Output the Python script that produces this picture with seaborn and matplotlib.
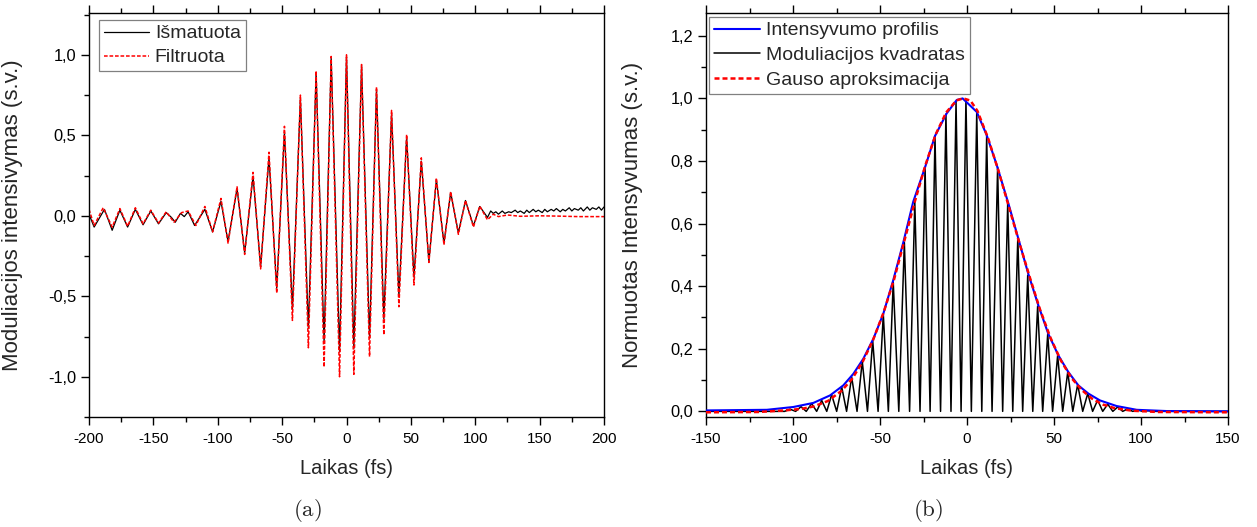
import numpy as np
import pandas as pd
import matplotlib
matplotlib.use("Agg")
import matplotlib.pyplot as plt
from matplotlib.ticker import MultipleLocator, FuncFormatter
import seaborn as sns

# ---------------- data: panel (a) ----------------
meas_t = [-200, -196, -188, -182, -176, -170, -164, -158, -152, -146, -140, -136, -133, -129,
          -126, -123, -118, -110, -104, -97.5, -92, -85, -79.1, -72.6, -66.7, -60.2, -54.2,
          -48.2, -42, -35.8, -29.6, -23.6, -17.4, -11.9, -5.4, 0, 5.7, 11.7, 17.9, 23.3, 29,
          35, 40.7, 46.7, 52.4, 58.1, 64, 69.8, 75.7, 80.9, 86.9, 92.4, 98.6, 103.5, 109.5,
          112, 114, 116, 118, 121, 123, 126, 128, 131, 133, 135, 138, 140, 142, 145, 147, 149,
          152, 154, 156, 159, 161, 163, 166, 168, 170, 173, 175, 177, 180, 182, 184, 187, 189,
          191, 194, 196, 198, 200]
meas_v = [0.01, -0.07, 0.04, -0.09, 0.035, -0.07, 0.04, -0.056, 0.03, -0.05, 0.02, -0.01, -0.04, 0.015,
          -0.005, 0.025, -0.06, 0.04, -0.10, 0.09, -0.16, 0.17, -0.23, 0.245, -0.316, 0.36, -0.45,
          0.52, -0.58, 0.73, -0.70, 0.89, -0.79, 0.98, -0.845, 0.99, -0.825, 0.935, -0.76, 0.785, -0.64,
          0.635, -0.50, 0.49, -0.38, 0.34, -0.285, 0.225, -0.17, 0.145, -0.105, 0.095, -0.062, 0.058, -0.01,
          0.03, 0.015, 0.025, 0.01, 0.03, 0.015, 0.025, 0.02, 0.035, 0.02, 0.03, 0.015, 0.035, 0.02,
          0.04, 0.025, 0.035, 0.02, 0.04, 0.025, 0.04, 0.03, 0.045, 0.025, 0.04, 0.03, 0.05, 0.03,
          0.045, 0.035, 0.05, 0.03, 0.055, 0.035, 0.05, 0.04, 0.055, 0.035, 0.055]

filt_t = [-200, -196, -189, -182, -176, -170, -164, -158, -152, -146, -140, -134, -128, -123,
          -117, -110, -104, -97.5, -92, -85, -79.1, -72.6, -66.7, -60.2, -54.2, -48.2, -42,
          -35.8, -29.6, -23.6, -17.4, -11.9, -5.4, 0, 5.7, 11.7, 17.9, 23.3, 29, 35, 40.7,
          46.7, 52.4, 58.1, 64, 69.8, 75.7, 80.9, 86.9, 92.4, 98.6, 103.5, 109.5, 114, 118,
          125, 135, 150, 165, 180, 200]
filt_v = [0.04, -0.06, 0.05, -0.07, 0.045, -0.065, 0.05, -0.05, 0.035, -0.045, 0.025, -0.04, 0.02, 0.03,
          -0.06, 0.058, -0.10, 0.108, -0.17, 0.18, -0.24, 0.27, -0.33, 0.395, -0.48, 0.556, -0.65,
          0.75, -0.82, 0.90, -0.94, 0.99, -1.0, 1.0, -0.985, 0.94, -0.875, 0.80, -0.74, 0.655, -0.565,
          0.505, -0.43, 0.36, -0.29, 0.235, -0.18, 0.15, -0.115, 0.095, -0.07, 0.06, -0.025, 0.01, -0.005,
          0.005, -0.003, 0.0, -0.002, -0.005, -0.005]

# ---------------- data: panel (b) ----------------
prof_t = [-150, -115, -99.8, -88.3, -78.7, -71.1, -65.3, -59.6, -53.8, -48.1, -42.4, -36.6, -30.9,
          -24.1, -18.4, -11.7, -5.9, -2.5, 5.6, 11.3, 17.1, 23.8, 29.5, 35.2, 41, 46.7, 52.5,
          58.2, 64, 69.7, 76.4, 86, 97.5, 114.8, 150]
prof_v = [0.003, 0.005, 0.014, 0.027, 0.051, 0.083, 0.12, 0.168, 0.232, 0.312, 0.419, 0.54, 0.67,
          0.78, 0.88, 0.952, 0.995, 1.0, 0.957, 0.883, 0.787, 0.664, 0.552, 0.44, 0.339, 0.248, 0.179,
          0.126, 0.083, 0.057, 0.035, 0.017, 0.005, 0.001, 0.0]

gauss_t = [-150, -120, -105, -95, -88, -80, -72, -66, -60, -54, -48, -42, -36, -30, -24, -18, -12,
           -6, -2, 2, 6, 12, 18, 24, 30, 36, 42, 48, 54, 60, 66, 72, 78, 85, 95, 110, 150]
gauss_v = [-0.003, -0.002, 0.003, 0.008, 0.016, 0.033, 0.066, 0.104, 0.158, 0.228, 0.315, 0.42, 0.545,
           0.67, 0.785, 0.885, 0.955, 0.994, 1.0, 0.993, 0.96, 0.875, 0.77, 0.655, 0.54, 0.43, 0.325,
           0.235, 0.162, 0.107, 0.068, 0.04, 0.022, 0.01, 0.002, -0.002, -0.003]

sq_peak_t = [-101.7, -95.4, -89.3, -83.5, -77.8, -72.0, -66.3, -60.2, -54.2, -48.1, -42.4, -36.0, -30.0,
             -24.1, -18.4, -12.1, -6.3, -0.6, 5.6, 11.3, 17.6, 23.4, 29.2, 34.9, 40.6, 46.4, 52.1,
             57.9, 63.6, 69.4, 75.1, 80.9, 86.6, 92.4, 98.1, 104.0]
sq_peak_v = [0.007, 0.015, 0.025, 0.035, 0.053, 0.078, 0.11, 0.16, 0.227, 0.31, 0.414, 0.54, 0.67,
             0.78, 0.88, 0.95, 0.99, 0.997, 0.955, 0.88, 0.78, 0.665, 0.555, 0.435, 0.336, 0.248, 0.179,
             0.126, 0.086, 0.057, 0.036, 0.023, 0.014, 0.008, 0.004, 0.002]
sq_zero_t = [-150, -104.8, -98.5, -92.4, -86.4, -80.6, -74.9, -69.2, -63.2, -57.2, -51.1, -45.2, -39.2,
             -33.0, -27.0, -21.2, -15.2, -9.2, -3.4, 2.5, 8.5, 14.4, 20.5, 26.3, 32.0, 37.8, 43.5,
             49.2, 55.0, 60.8, 66.5, 72.2, 78.0, 83.8, 89.5, 95.2, 101.0, 107.0, 150]

# ---------------- style ----------------
sns.set_style("ticks")
plt.rcParams["font.family"] = ["Liberation Sans", "DejaVu Sans"]
plt.rcParams["mathtext.fontset"] = "cm"
plt.rcParams["axes.unicode_minus"] = False
plt.rcParams["axes.linewidth"] = 1.0

XTICK_FS = 11
YTICK_FS = 11.8
XLABEL_FS = 14.5
YLABEL_FS = 16
LEG_FS = 14


def comma1(v, pos):
    s = f"{v:.1f}".replace(".", ",")
    if s.startswith("-0,0"):
        s = "0,0"
    return s


def style_axes(ax):
    ax.tick_params(which="both", direction="out", top=True, right=False,
                   labeltop=False, colors="black", width=1.0)
    ax.tick_params(which="major", length=6)
    ax.tick_params(axis="x", which="major", pad=4.5, labelsize=XTICK_FS)
    ax.tick_params(axis="y", which="major", pad=3, labelsize=YTICK_FS)
    ax.tick_params(which="minor", length=3.5)
    for s in ax.spines.values():
        s.set_visible(True)
        s.set_color("black")
        s.set_linewidth(1.0)


W, H = 1257, 527
fig = plt.figure(figsize=(W / 100, H / 100), dpi=100)
ax1 = fig.add_axes([89 / W, 1 - 417 / H, (604 - 89) / W, (417 - 13) / H])
ax2 = fig.add_axes([706 / W, 1 - 417 / H, (1228 - 706) / W, (417 - 13) / H])

# ---- panel (a)
da = pd.DataFrame({"t": meas_t, "v": meas_v})
df = pd.DataFrame({"t": filt_t, "v": filt_v})
sns.lineplot(data=da, x="t", y="v", ax=ax1, color="black", linewidth=0.9,
             estimator=None, label="Išmatuota")
sns.lineplot(data=df, x="t", y="v", ax=ax1, color="#ff0000", linewidth=1.1,
             linestyle=(0, (2.4, 1.2)), estimator=None, label="Filtruota")
ax1.set_xlim(-200, 200)
ax1.set_ylim(-1.25, 1.26)
ax1.xaxis.set_major_locator(MultipleLocator(50))
ax1.xaxis.set_minor_locator(MultipleLocator(25))
ax1.yaxis.set_major_locator(MultipleLocator(0.5))
ax1.yaxis.set_minor_locator(MultipleLocator(0.25))
ax1.yaxis.set_major_formatter(FuncFormatter(comma1))
ax1.xaxis.set_major_formatter(FuncFormatter(lambda v, p: f"{v:.0f}"))
style_axes(ax1)
ax1.set_xlabel("Laikas (fs)", fontsize=XLABEL_FS)
ax1.set_ylabel("Moduliacijos intensivymas (s.v.)", fontsize=YLABEL_FS)
ax1.xaxis.set_label_coords(0.5, -0.105)
ax1.yaxis.set_label_coords(-0.128, 0.5)
leg1 = ax1.legend(loc="upper left", bbox_to_anchor=((99 - 89) / 515, (417 - 20) / 404),
                  borderaxespad=0, fontsize=LEG_FS, frameon=True, fancybox=False,
                  edgecolor="#808080", framealpha=1, handlelength=2.3, handletextpad=0.32,
                  borderpad=0.25, labelspacing=0.33)
leg1.get_frame().set_linewidth(0.9)

# ---- panel (b)
sq_t = sorted(sq_peak_t + sq_zero_t)
peak_map = dict(zip(sq_peak_t, sq_peak_v))
sq_v = [peak_map.get(t, 0.0) for t in sq_t]
dsq = pd.DataFrame({"t": sq_t, "v": sq_v})
dpr = pd.DataFrame({"t": prof_t, "v": prof_v})
dga = pd.DataFrame({"t": gauss_t, "v": gauss_v})

sns.lineplot(data=dsq, x="t", y="v", ax=ax2, color="black", linewidth=1.1,
             estimator=None, label="Moduliacijos kvadratas", zorder=2)
sns.lineplot(data=dpr, x="t", y="v", ax=ax2, color="#0000ff", linewidth=1.5,
             estimator=None, label="Intensyvumo profilis", zorder=3)
sns.lineplot(data=dga, x="t", y="v", ax=ax2, color="#ff0000", linewidth=1.8,
             linestyle=(0, (2.0, 1.2)), estimator=None, label="Gauso aproksimacija", zorder=4)
ax2.set_xlim(-150, 150)
ax2.set_ylim(-0.018, 1.273)
ax2.xaxis.set_major_locator(MultipleLocator(50))
ax2.xaxis.set_minor_locator(MultipleLocator(25))
ax2.yaxis.set_major_locator(MultipleLocator(0.2))
ax2.yaxis.set_minor_locator(MultipleLocator(0.1))
ax2.yaxis.set_major_formatter(FuncFormatter(comma1))
ax2.xaxis.set_major_formatter(FuncFormatter(lambda v, p: f"{v:.0f}"))
style_axes(ax2)
ax2.set_xlabel("Laikas (fs)", fontsize=XLABEL_FS)
ax2.set_ylabel("Normuotas Intensyvumas (s.v.)", fontsize=YLABEL_FS)
ax2.xaxis.set_label_coords(0.5, -0.105)
ax2.yaxis.set_label_coords(-0.12, 0.5)
handles, labels = ax2.get_legend_handles_labels()
order = [labels.index("Intensyvumo profilis"), labels.index("Moduliacijos kvadratas"),
         labels.index("Gauso aproksimacija")]
leg2 = ax2.legend([handles[i] for i in order], [labels[i] for i in order],
                  loc="upper left", bbox_to_anchor=((709 - 706) / 522, (417 - 17) / 404),
                  borderaxespad=0, fontsize=LEG_FS, frameon=True, fancybox=False,
                  edgecolor="#808080", framealpha=1, handlelength=2.37, handletextpad=0.3,
                  borderpad=0.25, labelspacing=0.36)
leg2.get_frame().set_linewidth(0.9)

# ---- captions
fig.text(307 / W, 1 - 510 / H, r"$\mathrm{(a)}$", fontsize=16.5, ha="center", va="center")
fig.text(928 / W, 1 - 510 / H, r"$\mathrm{(b)}$", fontsize=16.5, ha="center", va="center")

fig.savefig("out.png", dpi=100, facecolor="white")
